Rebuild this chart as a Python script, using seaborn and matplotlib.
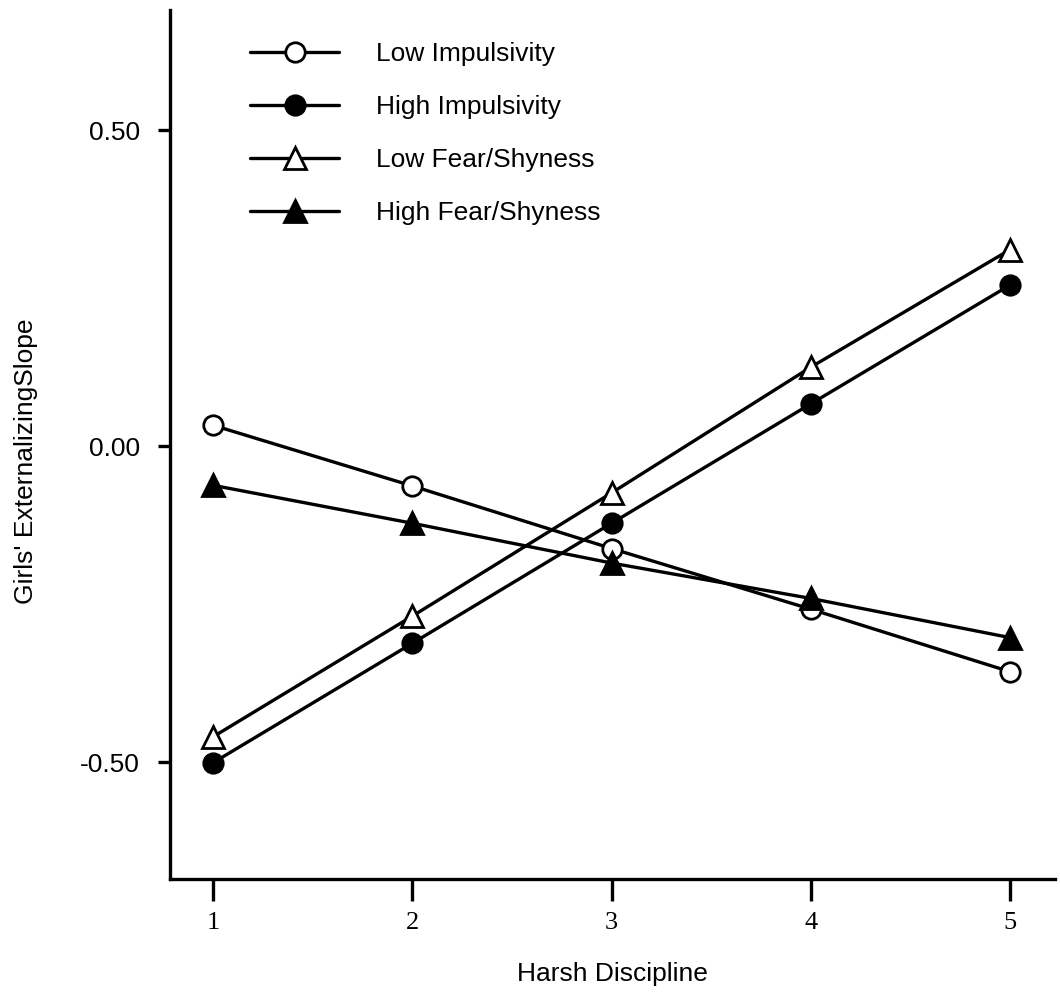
import matplotlib
matplotlib.use("Agg")
import matplotlib.pyplot as plt
from matplotlib.lines import Line2D
import seaborn as sns
import pandas as pd

harsh = [1, 2, 3, 4, 5]
low_impulsivity = [0.033, -0.063, -0.162, -0.258, -0.357]
high_impulsivity = [-0.501, -0.312, -0.122, 0.067, 0.255]
low_fear = [-0.460, -0.269, -0.074, 0.125, 0.311]
high_fear = [-0.062, -0.122, -0.185, -0.241, -0.303]
series_names = ["Low Impulsivity", "High Impulsivity", "Low Fear/Shyness", "High Fear/Shyness"]
y_ticks = [-0.50, 0.00, 0.50]
y_ticklabels = ["-0.50", "0.00", "0.50"]

sns.set_theme(style="white")
plt.rcParams['font.family'] = ['Liberation Sans', 'DejaVu Sans']
plt.rcParams['text.color'] = 'black'
plt.rcParams['axes.labelcolor'] = 'black'
plt.rcParams['xtick.color'] = 'black'
plt.rcParams['ytick.color'] = 'black'

fig = plt.figure(figsize=(10.6, 9.93), dpi=100)
ax = fig.add_axes([0.1604, 0.1148, 0.835, 0.875])

styles = {
    "Low Impulsivity": dict(marker="o", mfc="white", ms=14),
    "High Impulsivity": dict(marker="o", mfc="black", ms=14),
    "Low Fear/Shyness": dict(marker="^", mfc="white", ms=16),
    "High Fear/Shyness": dict(marker="^", mfc="black", ms=16),
}
values = [low_impulsivity, high_impulsivity, low_fear, high_fear]
handles = []
for name, vals in zip(series_names, values):
    df = pd.DataFrame({"x": harsh, "y": vals})
    st = styles[name]
    sns.lineplot(data=df, x="x", y="y", ax=ax, color="black", lw=2.4,
                 marker=st["marker"], markersize=st["ms"], markerfacecolor=st["mfc"],
                 markeredgecolor="black", markeredgewidth=2.0)
    handles.append(Line2D([0], [0], color="black", lw=2.4, marker=st["marker"],
                          markersize=st["ms"], markerfacecolor=st["mfc"],
                          markeredgecolor="black", markeredgewidth=2.0))

ax.set_xlim(0.784, 5.226)
ax.set_ylim(-0.685, 0.69)
ax.set_xticks(harsh)
ax.set_xticklabels([str(v) for v in harsh], family="Liberation Serif", fontsize=19, color="black")
ax.set_yticks(y_ticks)
ax.set_yticklabels(y_ticklabels, fontsize=19, color="black")
ax.tick_params(axis="x", direction="out", length=16, width=2.4, color="black", pad=8)
ax.tick_params(axis="y", direction="out", length=8.5, width=2.4, color="black", pad=13)
ax.tick_params(bottom=True, left=True)
for s in ["top", "right"]:
    ax.spines[s].set_visible(False)
for s in ["left", "bottom"]:
    ax.spines[s].set_linewidth(2.4)
    ax.spines[s].set_color("black")

ax.set_xlabel("Harsh Discipline", fontsize=19, labelpad=20, color="black")
ax.set_ylabel("Girls' ExternalizingSlope", fontsize=19, color="black")
ax.yaxis.set_label_coords(-0.149, 0.481)

leg = ax.legend(handles, series_names, loc="upper left", bbox_to_anchor=(0.09, 0.9635),
                frameon=False, fontsize=19, handlelength=3.4, handletextpad=1.4,
                labelspacing=1.1, borderpad=0, borderaxespad=0)
for t in leg.get_texts():
    t.set_color("black")

fig.savefig("out.png", dpi=100, facecolor="white")
